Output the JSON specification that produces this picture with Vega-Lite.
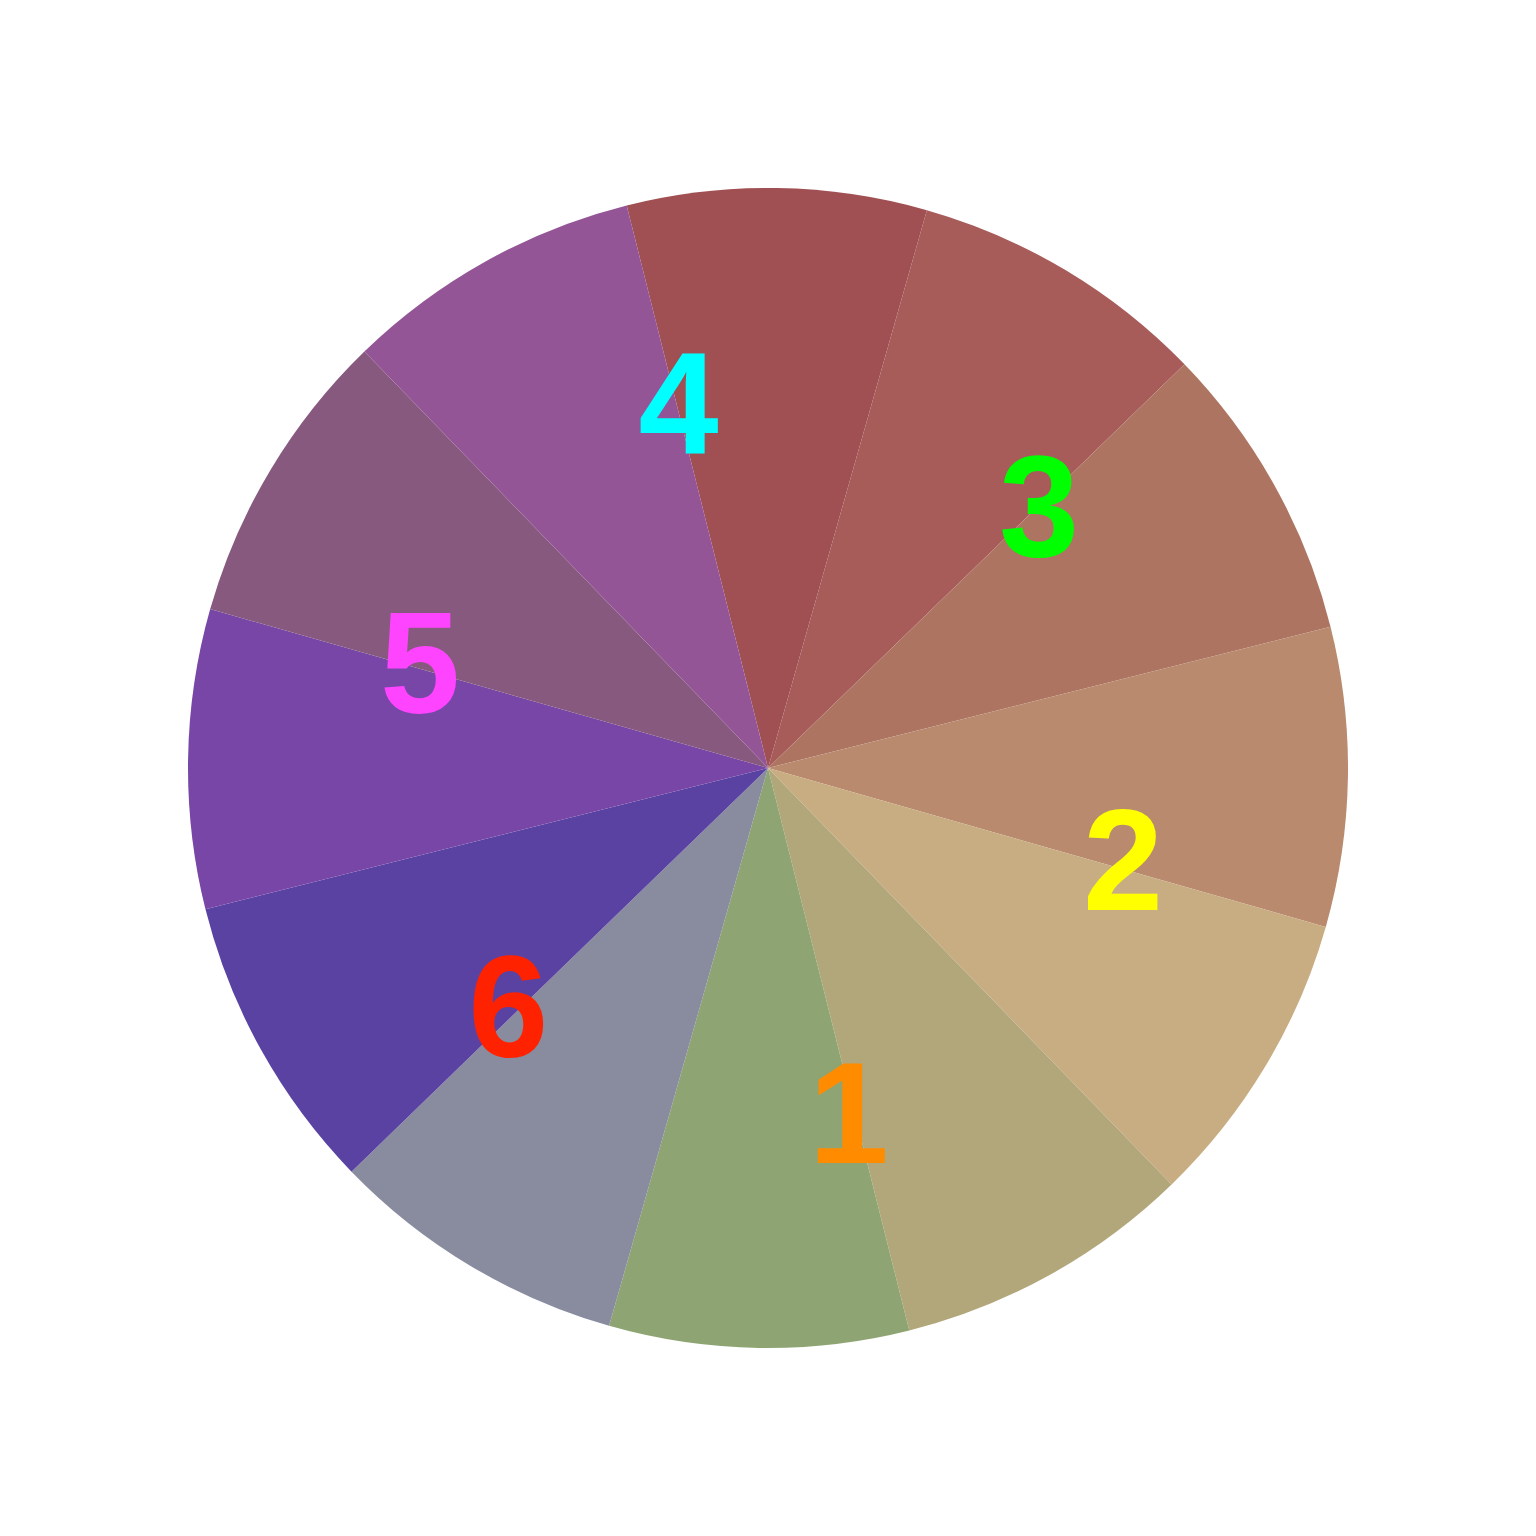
{
  "$schema": "https://vega.github.io/schema/vega-lite/v6.json",
  "width": 1536,
  "height": 1536,
  "autosize": {"type": "fit", "contains": "padding"},
  "padding": 0,
  "background": "white",
  "config": {"view": {"stroke": null}},
  "datasets": {
    "slices": [
      {"i": 0, "v": 1, "color": "#A04F52"},
      {"i": 1, "v": 1, "color": "#A75C5A"},
      {"i": 2, "v": 1, "color": "#AE7462"},
      {"i": 3, "v": 1, "color": "#B98A6E"},
      {"i": 4, "v": 1, "color": "#C9AD82"},
      {"i": 5, "v": 1, "color": "#B2A77B"},
      {"i": 6, "v": 1, "color": "#8FA473"},
      {"i": 7, "v": 1, "color": "#888C9E"},
      {"i": 8, "v": 1, "color": "#5A42A2"},
      {"i": 9, "v": 1, "color": "#7746A6"},
      {"i": 10, "v": 1, "color": "#87597F"},
      {"i": 11, "v": 1, "color": "#945597"}
    ],
    "labels": [
      {"label": "4", "pos": 11.97, "tc": "#00FFFF"},
      {"label": "3", "pos": 2.03, "tc": "#00FF00"},
      {"label": "2", "pos": 4.02, "tc": "#FFFF00"},
      {"label": "1", "pos": 6.07, "tc": "#FF8C00"},
      {"label": "6", "pos": 8.02, "tc": "#FF2200"},
      {"label": "5", "pos": 9.96, "tc": "#FF44FF"}
    ]
  },
  "layer": [
    {
      "data": {"name": "slices"},
      "mark": {"type": "arc", "outerRadius": 580, "stroke": null},
      "encoding": {
        "theta": {"field": "v", "type": "quantitative", "stack": true,
                  "scale": {"domain": [0, 12], "range": [-0.2461, 6.0371]}},
        "order": {"field": "i", "type": "quantitative"},
        "color": {"field": "color", "type": "nominal", "scale": null, "legend": null}
      }
    },
    {
      "data": {"name": "labels"},
      "mark": {"type": "text", "radius": 365, "fontSize": 144, "fontWeight": "bold",
               "font": "Liberation Sans", "align": "center", "baseline": "middle",
               "dx": 5, "dy": -5},
      "encoding": {
        "theta": {"field": "pos", "type": "quantitative", "stack": null,
                  "scale": {"domain": [0, 12], "range": [-0.2461, 6.0371]}},
        "text": {"field": "label", "type": "nominal"},
        "color": {"field": "tc", "type": "nominal", "scale": null, "legend": null}
      }
    }
  ]
}
